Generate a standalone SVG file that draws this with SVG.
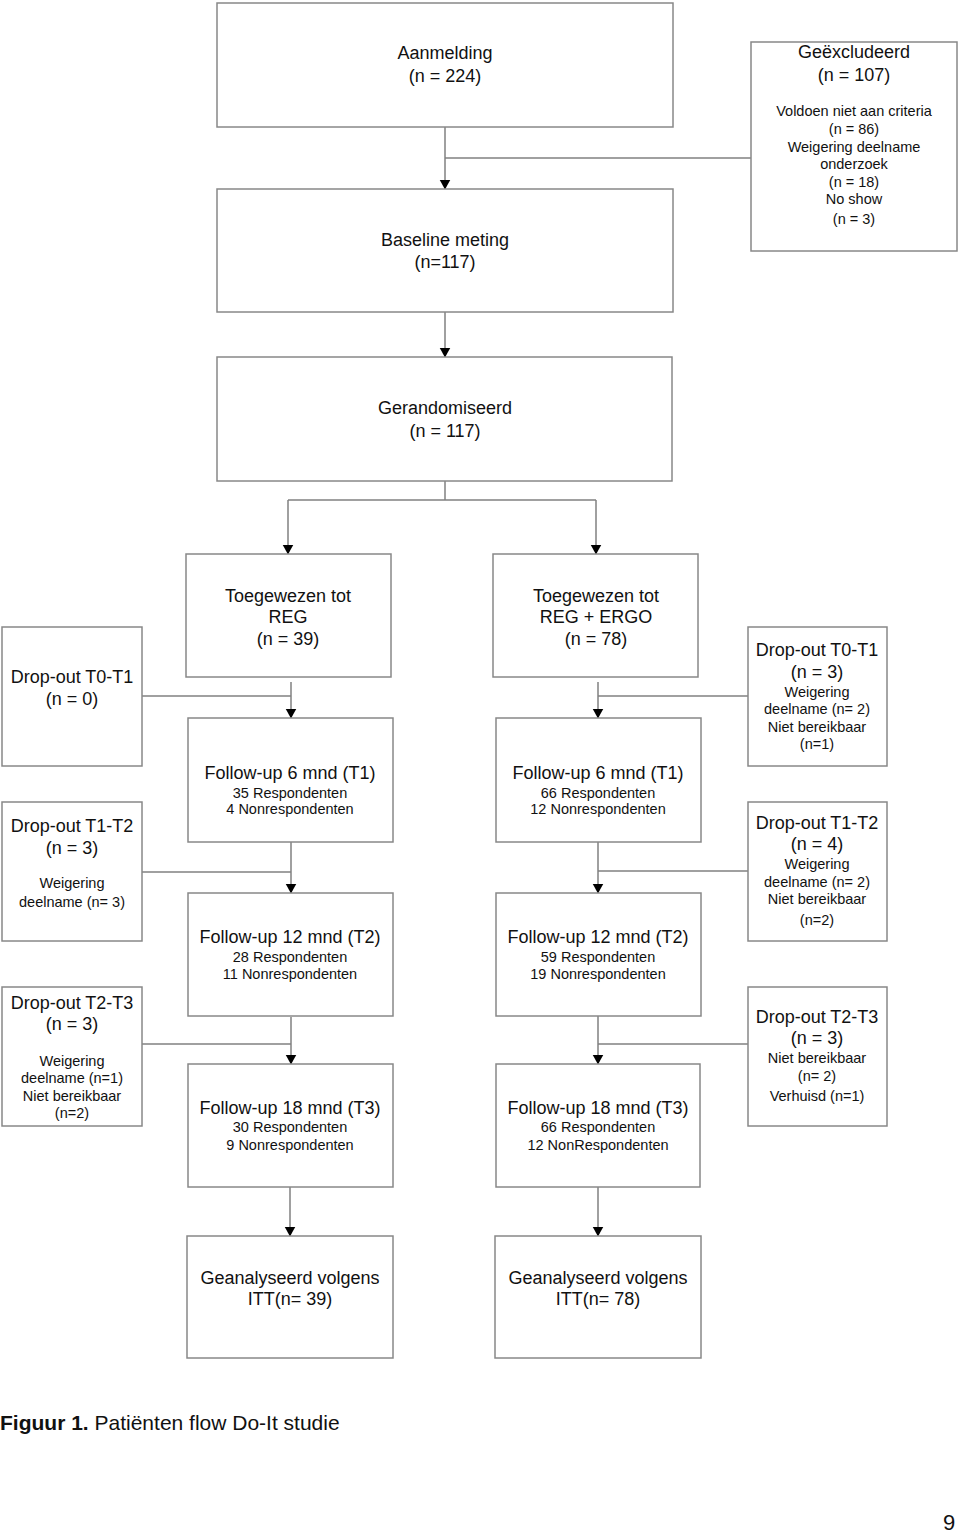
<svg xmlns="http://www.w3.org/2000/svg" width="960" height="1534" viewBox="0 0 960 1534">
<style>
.box{fill:#fff;stroke:#888;stroke-width:1.5}
.ln{fill:none;stroke:#808080;stroke-width:1.5}
text{font-family:"Liberation Sans",Arial,sans-serif;fill:#111;text-anchor:middle}
.b{font-size:18px}
.s{font-size:14.5px}
</style>
<defs>
<marker id="ah" markerUnits="userSpaceOnUse" markerWidth="12" markerHeight="10" refX="5.5" refY="9.5" orient="0" viewBox="0 0 11 10">
<path d="M0,0 L11,0 L5.5,10 Z" fill="#000"/>
</marker>
</defs>
<rect width="960" height="1534" fill="#fff"/>
<g id="connectors">
<line class="ln" x1="445" y1="127" x2="445" y2="189" marker-end="url(#ah)"/>
<line class="ln" x1="445" y1="158" x2="751" y2="158"/>
<line class="ln" x1="445" y1="312" x2="445" y2="357" marker-end="url(#ah)"/>
<polyline class="ln" points="445,481 445,500"/>
<line class="ln" x1="288" y1="500" x2="596" y2="500"/>
<line class="ln" x1="288" y1="500" x2="288" y2="554" marker-end="url(#ah)"/>
<line class="ln" x1="596" y1="500" x2="596" y2="554" marker-end="url(#ah)"/>
<line class="ln" x1="291" y1="682" x2="291" y2="718" marker-end="url(#ah)"/>
<line class="ln" x1="142" y1="696" x2="291" y2="696"/>
<line class="ln" x1="291" y1="842" x2="291" y2="893" marker-end="url(#ah)"/>
<line class="ln" x1="142" y1="872" x2="291" y2="872"/>
<line class="ln" x1="291" y1="1017" x2="291" y2="1064" marker-end="url(#ah)"/>
<line class="ln" x1="142" y1="1044" x2="291" y2="1044"/>
<line class="ln" x1="290" y1="1187" x2="290" y2="1236" marker-end="url(#ah)"/>
<line class="ln" x1="598" y1="682" x2="598" y2="718" marker-end="url(#ah)"/>
<line class="ln" x1="598" y1="696" x2="748" y2="696"/>
<line class="ln" x1="598" y1="842" x2="598" y2="893" marker-end="url(#ah)"/>
<line class="ln" x1="598" y1="871" x2="748" y2="871"/>
<line class="ln" x1="598" y1="1016" x2="598" y2="1064" marker-end="url(#ah)"/>
<line class="ln" x1="598" y1="1044" x2="748" y2="1044"/>
<line class="ln" x1="598" y1="1187" x2="598" y2="1236" marker-end="url(#ah)"/>
</g>
<g id="aanmelding">
<rect class="box" x="217" y="3" width="456" height="124"/>
<text class="b" x="445" y="59">Aanmelding</text>
<text class="b" x="445" y="82">(n = 224)</text>
</g>
<g id="geexcludeerd">
<rect class="box" x="751" y="42" width="206" height="209"/>
<text class="b" x="854" y="58">Geëxcludeerd</text>
<text class="b" x="854" y="81">(n = 107)</text>
<text class="s" x="854" y="116">Voldoen niet aan criteria</text>
<text class="s" x="854" y="134">(n = 86)</text>
<text class="s" x="854" y="152">Weigering deelname</text>
<text class="s" x="854" y="169">onderzoek</text>
<text class="s" x="854" y="187">(n = 18)</text>
<text class="s" x="854" y="204">No show</text>
<text class="s" x="854" y="224">(n = 3)</text>
</g>
<g id="baseline">
<rect class="box" x="217" y="189" width="456" height="123"/>
<text class="b" x="445" y="246">Baseline meting</text>
<text class="b" x="445" y="268">(n=117)</text>
</g>
<g id="gerandomiseerd">
<rect class="box" x="217" y="357" width="455" height="124"/>
<text class="b" x="445" y="414">Gerandomiseerd</text>
<text class="b" x="445" y="437">(n = 117)</text>
</g>
<g id="reg">
<rect class="box" x="186" y="554" width="205" height="123"/>
<text class="b" x="288" y="602">Toegewezen tot</text>
<text class="b" x="288" y="623">REG</text>
<text class="b" x="288" y="645">(n = 39)</text>
</g>
<g id="regergo">
<rect class="box" x="493" y="554" width="205" height="123"/>
<text class="b" x="596" y="602">Toegewezen tot</text>
<text class="b" x="596" y="623">REG + ERGO</text>
<text class="b" x="596" y="645">(n = 78)</text>
</g>
<g id="dropout-l-t0t1">
<rect class="box" x="2" y="627" width="140" height="139"/>
<text class="b" x="72" y="683">Drop-out T0-T1</text>
<text class="b" x="72" y="705">(n = 0)</text>
</g>
<g id="dropout-l-t1t2">
<rect class="box" x="2" y="802" width="140" height="139"/>
<text class="b" x="72" y="832">Drop-out T1-T2</text>
<text class="b" x="72" y="854">(n = 3)</text>
<text class="s" x="72" y="888">Weigering</text>
<text class="s" x="72" y="907">deelname (n= 3)</text>
</g>
<g id="dropout-l-t2t3">
<rect class="box" x="2" y="987" width="140" height="139"/>
<text class="b" x="72" y="1009">Drop-out T2-T3</text>
<text class="b" x="72" y="1030">(n = 3)</text>
<text class="s" x="72" y="1066">Weigering</text>
<text class="s" x="72" y="1083">deelname (n=1)</text>
<text class="s" x="72" y="1101">Niet bereikbaar</text>
<text class="s" x="72" y="1118">(n=2)</text>
</g>
<g id="fu6-reg">
<rect class="box" x="188" y="718" width="205" height="124"/>
<text class="b" x="290" y="779">Follow-up 6 mnd (T1)</text>
<text class="s" x="290" y="798">35 Respondenten</text>
<text class="s" x="290" y="814">4 Nonrespondenten</text>
</g>
<g id="fu12-reg">
<rect class="box" x="188" y="893" width="205" height="123"/>
<text class="b" x="290" y="943">Follow-up 12 mnd (T2)</text>
<text class="s" x="290" y="962">28 Respondenten</text>
<text class="s" x="290" y="979">11 Nonrespondenten</text>
</g>
<g id="fu18-reg">
<rect class="box" x="188" y="1064" width="205" height="123"/>
<text class="b" x="290" y="1114">Follow-up 18 mnd (T3)</text>
<text class="s" x="290" y="1132">30 Respondenten</text>
<text class="s" x="290" y="1150">9 Nonrespondenten</text>
</g>
<g id="itt-reg">
<rect class="box" x="187" y="1236" width="206" height="122"/>
<text class="b" x="290" y="1284">Geanalyseerd volgens</text>
<text class="b" x="290" y="1305">ITT(n= 39)</text>
</g>
<g id="fu6-ergo">
<rect class="box" x="496" y="718" width="205" height="124"/>
<text class="b" x="598" y="779">Follow-up 6 mnd (T1)</text>
<text class="s" x="598" y="798">66 Respondenten</text>
<text class="s" x="598" y="814">12 Nonrespondenten</text>
</g>
<g id="fu12-ergo">
<rect class="box" x="496" y="893" width="205" height="123"/>
<text class="b" x="598" y="943">Follow-up 12 mnd (T2)</text>
<text class="s" x="598" y="962">59 Respondenten</text>
<text class="s" x="598" y="979">19 Nonrespondenten</text>
</g>
<g id="fu18-ergo">
<rect class="box" x="496" y="1064" width="204" height="123"/>
<text class="b" x="598" y="1114">Follow-up 18 mnd (T3)</text>
<text class="s" x="598" y="1132">66 Respondenten</text>
<text class="s" x="598" y="1150">12 NonRespondenten</text>
</g>
<g id="itt-ergo">
<rect class="box" x="495" y="1236" width="206" height="122"/>
<text class="b" x="598" y="1284">Geanalyseerd volgens</text>
<text class="b" x="598" y="1305">ITT(n= 78)</text>
</g>
<g id="dropout-r-t0t1">
<rect class="box" x="748" y="627" width="139" height="139"/>
<text class="b" x="817" y="656">Drop-out T0-T1</text>
<text class="b" x="817" y="678">(n = 3)</text>
<text class="s" x="817" y="697">Weigering</text>
<text class="s" x="817" y="714">deelname (n= 2)</text>
<text class="s" x="817" y="732">Niet bereikbaar</text>
<text class="s" x="817" y="749">(n=1)</text>
</g>
<g id="dropout-r-t1t2">
<rect class="box" x="748" y="802" width="139" height="139"/>
<text class="b" x="817" y="829">Drop-out T1-T2</text>
<text class="b" x="817" y="850">(n = 4)</text>
<text class="s" x="817" y="869">Weigering</text>
<text class="s" x="817" y="887">deelname (n= 2)</text>
<text class="s" x="817" y="904">Niet bereikbaar</text>
<text class="s" x="817" y="925">(n=2)</text>
</g>
<g id="dropout-r-t2t3">
<rect class="box" x="748" y="987" width="139" height="139"/>
<text class="b" x="817" y="1023">Drop-out T2-T3</text>
<text class="b" x="817" y="1044">(n = 3)</text>
<text class="s" x="817" y="1063">Niet bereikbaar</text>
<text class="s" x="817" y="1081">(n= 2)</text>
<text class="s" x="817" y="1101">Verhuisd (n=1)</text>
</g>
<g id="caption">
<text x="0" y="1430" style="font-size:21px;text-anchor:start"><tspan font-weight="bold">Figuur 1.</tspan> Patiënten flow Do-It studie</text>
<text x="949" y="1530" style="font-size:22px">9</text>
</g>
</svg>
